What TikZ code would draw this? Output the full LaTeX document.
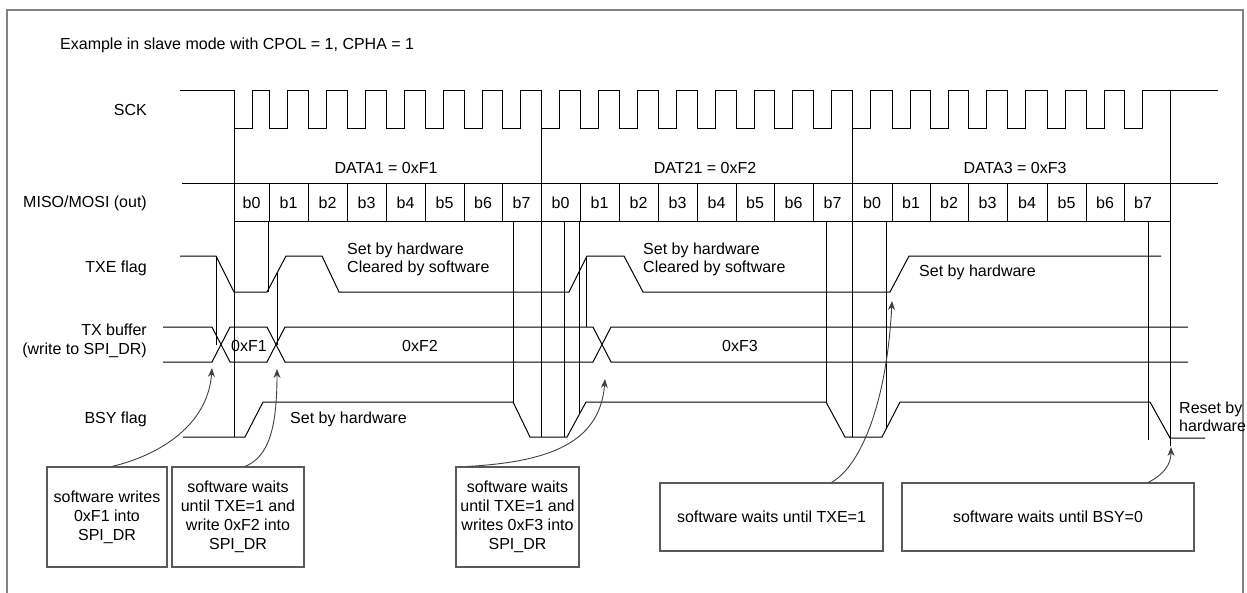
\documentclass[tikz,border=0pt]{standalone}
\usepackage{fontspec}
\setmainfont{Liberation Sans}
\usetikzlibrary{arrows.meta}
\definecolor{framegray}{RGB}{130,130,130}
\definecolor{boxgray}{RGB}{90,90,90}
\definecolor{arrgray}{RGB}{64,64,64}
\newcommand\dfont{\fontsize{16}{19}\selectfont}
\begin{document}
\begin{tikzpicture}[x=1pt,y=-1pt,
  sig/.style={line width=1pt,black},
  lbl/.style={font=\dfont,anchor=east,inner sep=0pt,align=right},
  txt/.style={font=\dfont,inner sep=0pt},
  note/.style={font=\fontsize{16}{18}\selectfont,inner sep=0pt,anchor=west,align=left},
  swbox/.style={draw=boxgray,line width=1.1pt,font=\dfont,align=center,inner sep=2pt},
  callout/.style={draw=arrgray,line width=0.9pt,-{Stealth[length=9pt,width=7pt]}},
  framed/.style={draw=framegray,line width=1.2pt}]
\useasboundingbox (0,0) rectangle (1247,592);
\draw[framed] (7,600) -- (7,10) -- (1243,10) -- (1243,600);

% title and row labels
\node[txt,anchor=west] (title) at (60,45) {Example in slave mode with CPOL = 1, CPHA = 1};
\node[lbl] (lsck) at (147,110) {SCK};
\node[lbl] (lmiso) at (147,203) {MISO/MOSI (out)};
\node[lbl] (ltxe) at (147,268) {TXE flag};
\node[lbl] (ltx) at (147,341) {TX buffer\\(write to SPI\_DR)};
\node[lbl] (lbsy) at (147,419) {BSY flag};

% SCK
\draw[sig] (180,90) foreach \b in {234,269,308,347,386,425,464,502,541,580,619,658,697,736,774,813,852,892,930,968,1007,1047,1086,1124} { -- (\b,90) -- (\b,128) -- (\b+18,128) -- (\b+18,90) } -- (1218,90);

% data labels
\node[txt] (data1) at (386,168) {DATA1 = 0xF1};
\node[txt] (data2) at (705,168) {DAT21 = 0xF2};
\node[txt] (data3) at (1015,168) {DATA3 = 0xF3};

% MISO/MOSI row
\draw[sig] (182,183) -- (1218,183);
\draw[sig] (234,221) -- (1170,221);
\foreach \x in {269,308,347,386,425,464,502,580,619,658,697,736,774,813,892,930,968,1007,1047,1086,1124}
  \draw[sig] (\x,183) -- (\x,221);
\foreach \l/\r/\k [count=\i] in {234/269/0,269/308/1,308/347/2,347/386/3,386/425/4,425/464/5,464/502/6,502/541/7,
  541/580/0,580/619/1,619/658/2,658/697/3,697/736/4,736/774/5,774/813/6,813/852/7,
  852/892/0,892/930/1,930/968/2,968/1007/3,1007/1047/4,1047/1086/5,1086/1124/6,1124/1162/7}
  \node[txt] (bit\i) at ({(\l+\r)/2},203) {b\k};

% long vertical markers
\foreach \x in {234,541,852} \draw[sig] (\x,90) -- (\x,437);
\draw[sig] (1170,90) -- (1170,446);
\draw[sig] (216,256) -- (216,345);
\draw[sig] (268,221) -- (268,292);
\draw[sig] (277,273) -- (277,345);
\draw[sig] (513,221) -- (513,402);
\draw[sig] (564,221) -- (564,437);
\draw[sig] (579,221) -- (579,414);
\draw[sig] (586,258) -- (586,327);
\draw[sig] (826,221) -- (826,402);
\draw[sig] (886,221) -- (886,429);
\draw[sig] (1148,221) -- (1148,440);

% TXE flag
\draw[sig] (180,256) -- (216,256) -- (234,292) -- (267,292) -- (286,256) -- (322,256) -- (339,292)
  -- (569,292) -- (587,256) -- (624,256) -- (643,292) -- (890,292) -- (909,256) -- (1161,256);
\node[note] (txe1) at (347,259) {Set by hardware\\Cleared by software};
\node[note] (txe2) at (643,259) {Set by hardware\\Cleared by software};
\node[note] (txe3) at (919,272) {Set by hardware};

% TX buffer
\draw[sig] (163,327) -- (212,327) -- (230,362) -- (267,362) -- (285,327) -- (593,327) -- (611,362) -- (1188,362);
\draw[sig] (163,362) -- (212,362) -- (230,327) -- (267,327) -- (285,362) -- (593,362) -- (611,327) -- (1188,327);
\node[txt] (v1) at (249,346) {0xF1};
\node[txt] (v2) at (420,346) {0xF2};
\node[txt] (v3) at (740,346) {0xF3};

% BSY flag
\draw[sig] (183,437) -- (245,437) -- (263,402) -- (513,402) -- (530,437) -- (567,437) -- (586,402)
  -- (826,402) -- (845,437) -- (882,437) -- (900,402) -- (1150,402) -- (1170,438) -- (1205,438);
\node[note] (bsy1) at (290,419) {Set by hardware};
\node[note] (rst) at (1179,417) {Reset by\\hardware};

% software boxes
\node[swbox,minimum width=120pt,minimum height=100pt] (box1) at (107,517) {software writes\\0xF1 into\\SPI\_DR};
\node[swbox,minimum width=132pt,minimum height=100pt] (box2) at (238,517) {software waits\\until TXE=1 and\\write 0xF2 into\\SPI\_DR};
\node[swbox,minimum width=123pt,minimum height=100pt] (box3) at (517.5,517) {software waits\\until TXE=1 and\\writes 0xF3 into\\SPI\_DR};
\node[swbox,minimum width=223pt,minimum height=68pt] (box4) at (771.5,517) {software waits until TXE=1};
\node[swbox,minimum width=292pt,minimum height=68pt] (box5) at (1048,517) {software waits until BSY=0};

% callouts
\coordinate (t1) at (212,368);
\coordinate (t2) at (277,369);
\coordinate (t3) at (605,379);
\coordinate (t4) at (892,301);
\coordinate (t5) at (1171,447);
\draw[callout] ([xshift=5pt]box1.north) .. controls (160,455) and (208,425) .. (t1);
\draw[callout] ([xshift=7pt]box2.north) .. controls (268,457) and (277,430) .. (t2);
\draw[callout] ([xshift=-50pt]box3.north) .. controls (545,462) and (600,445) .. (t3);
\draw[callout] ([xshift=60pt]box4.north) .. controls (862,465) and (887,400) .. (t4);
\draw[callout] ([xshift=100pt]box5.north) .. controls (1163,475) and (1171,465) .. (t5);
\end{tikzpicture}
\end{document}
